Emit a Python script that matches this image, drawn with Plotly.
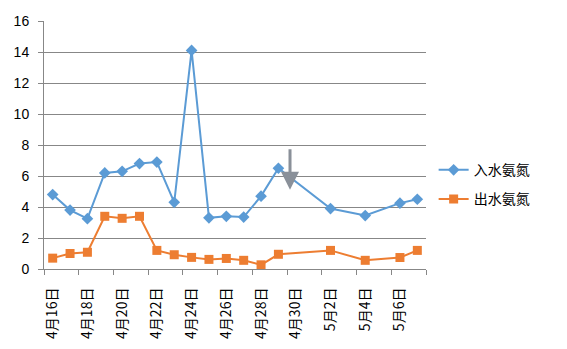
import plotly.graph_objects as go

dates = ["2015-04-16", "2015-04-17", "2015-04-18", "2015-04-19", "2015-04-20", "2015-04-21",
         "2015-04-22", "2015-04-23", "2015-04-24", "2015-04-25", "2015-04-26", "2015-04-27",
         "2015-04-28", "2015-04-29", "2015-05-02", "2015-05-04", "2015-05-06", "2015-05-07"]
inflow = [4.8, 3.8, 3.25, 6.2, 6.3, 6.8, 6.9, 4.3, 14.1, 3.3, 3.4, 3.35,
          4.7, 6.5, 3.9, 3.45, 4.25, 4.5]
outflow = [0.7, 1.0, 1.08, 3.4, 3.27, 3.4, 1.2, 0.92, 0.75, 0.62, 0.68, 0.56,
           0.27, 0.95, 1.2, 0.56, 0.74, 1.2]

label_dates = ["2015-04-16", "2015-04-18", "2015-04-20", "2015-04-22", "2015-04-24", "2015-04-26",
               "2015-04-28", "2015-04-30", "2015-05-02", "2015-05-04", "2015-05-06"]
label_text = ["4月16日", "4月18日", "4月20日", "4月22日", "4月24日", "4月26日",
              "4月28日", "4月30日", "5月2日", "5月4日", "5月6日"]
tick_bounds = ["2015-04-15 12:00", "2015-04-17 12:00", "2015-04-19 12:00", "2015-04-21 12:00",
               "2015-04-23 12:00", "2015-04-25 12:00", "2015-04-27 12:00", "2015-04-29 12:00",
               "2015-05-01 12:00", "2015-05-03 12:00", "2015-05-05 12:00", "2015-05-07 12:00"]

font_family = "Liberation Sans, Noto Sans CJK SC, sans-serif"
cjk = "Noto Sans CJK SC, sans-serif"
grid = "#878787"

fig = go.Figure()
fig.add_trace(go.Scatter(x=dates, y=inflow, name="入水氨氮", mode="lines+markers",
                         legendgroup="a",
                         line=dict(color="#5B9BD5", width=2),
                         marker=dict(symbol="diamond", size=9, color="#5B9BD5")))
fig.add_trace(go.Scatter(x=dates, y=outflow, name="出水氨氮", mode="lines+markers",
                         legendgroup="b",
                         line=dict(color="#ED7D31", width=2),
                         marker=dict(symbol="square", size=9, color="#ED7D31")))

fig.add_annotation(x=0.644, y=0.32, xref="paper", yref="paper", ax=0, ay=-42,
                   showarrow=True, arrowhead=2, arrowsize=1.2, arrowwidth=3,
                   arrowcolor="#8a9099", text="")

fig.update_layout(
    width=567, height=349,
    margin=dict(l=44, r=141, t=21, b=80),
    paper_bgcolor="white", plot_bgcolor="white",
    font=dict(family=font_family, size=12, color="#000000"),
    legend=dict(x=1.02, y=0.34, yanchor="middle", xanchor="left",
                traceorder="grouped", tracegroupgap=8,
                font=dict(size=14, family=cjk)),
    xaxis=dict(type="date", range=["2015-04-15 12:00", "2015-05-07 12:00"],
               tickmode="array", tickvals=label_dates, ticktext=label_text,
               tickangle=-90, ticks="", showgrid=False, ticklabelstandoff=12,
               showline=True, linecolor=grid, linewidth=1, automargin=False,
               tickfont=dict(size=14, family=cjk),
               minor=dict(tickmode="array", tickvals=tick_bounds, ticks="outside",
                          ticklen=5, tickcolor=grid, showgrid=False)),
    yaxis=dict(range=[0, 16], dtick=2, showgrid=True, gridcolor=grid, gridwidth=1,
               showline=True, linecolor=grid, ticks="outside", ticklen=5, tickcolor=grid,
               zeroline=False, tickfont=dict(size=14), automargin=False,
               ticklabelstandoff=6),
)

fig.write_html("out.html")
